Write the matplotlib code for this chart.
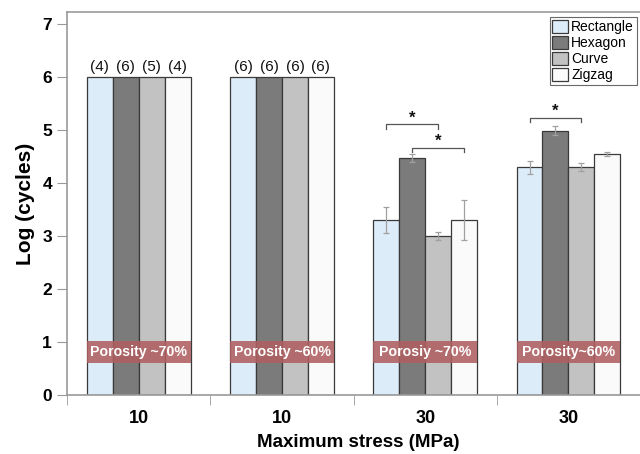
import numpy as np
import matplotlib
matplotlib.use('Agg')
import matplotlib.pyplot as plt

plt.rcParams['font.family'] = ['Liberation Sans', 'DejaVu Sans']

#####################################

groups = ['10', '10', '30', '30']
shapes = ['Rectangle', 'Hexagon', 'Curve', 'Zigzag']
colors = ['#ddecf9', '#7b7b7b', '#c2c2c2', '#fafafa']

rectangle = [6.0, 6.0, 3.30, 4.30]
hexagon = [6.0, 6.0, 4.47, 4.99]
curve = [6.0, 6.0, 3.00, 4.30]
zigzag = [6.0, 6.0, 3.30, 4.55]

rectangle_err = [0, 0, 0.25, 0.12]
hexagon_err = [0, 0, 0.08, 0.08]
curve_err = [0, 0, 0.08, 0.08]
zigzag_err = [0, 0, 0.38, 0.04]

counts = [['(4)', '(6)', '(5)', '(4)'], ['(6)', '(6)', '(6)', '(6)'], None, None]
porosity = ['Porosity ~70%', 'Porosity ~60%', 'Porosiy ~70%', 'Porosity~60%']

# (group, bar a, bar b, height)
brackets = [(2, 0, 2, 5.11), (2, 1, 3, 4.66), (3, 0, 2, 5.23)]

#####################################

values = [rectangle, hexagon, curve, zigzag]
errors = [rectangle_err, hexagon_err, curve_err, zigzag_err]

fig = plt.figure(figsize=(6.4, 4.54), dpi=100)
ax = fig.add_axes([0.105, 0.130, 0.895, 0.8436])

x = np.arange(len(groups))
w = 0.181
offsets = (np.arange(4) - 1.5) * w

for i in range(4):
    err = [e if e > 0 else np.nan for e in errors[i]]
    ax.bar(x + offsets[i], values[i], w, color=colors[i], edgecolor='#3a3a3a',
           linewidth=0.9, label=shapes[i], zorder=2)
    ax.errorbar(x + offsets[i], values[i], yerr=err, fmt='none', ecolor='#a0a0a0',
                elinewidth=0.9, capsize=2, capthick=0.9, zorder=3)

for g, labs in enumerate(counts):
    if labs is None:
        continue
    for i, lab in enumerate(labs):
        ax.text(x[g] + offsets[i], values[i][g] + 0.05, lab, ha='center', va='bottom',
                fontsize=11, color='#111111')

for g, lab in enumerate(porosity):
    ax.add_patch(plt.Rectangle((x[g] - 2 * w, 0.60), 4 * w, 0.42, facecolor='#b05f60',
                               alpha=0.88, edgecolor='none', zorder=4))
    ax.text(x[g], 0.81, lab, ha='center', va='center', fontsize=10.2, fontweight='bold',
            color='white', zorder=5)

for g, a, b, h in brackets:
    xa = x[g] + offsets[a]
    xb = x[g] + offsets[b]
    ax.plot([xa, xa, xb, xb], [h - 0.08, h, h, h - 0.08], color='#555555', lw=0.9, zorder=3)
    ax.text((xa + xb) / 2, h - 0.02, '*', ha='center', va='bottom', fontsize=12,
            fontweight='bold', color='#111111')

ax.set_xlim(-0.5, 3.42)
ax.set_ylim(0, 7.23)
ax.set_yticks(range(0, 8))
ax.set_xticks(x)
ax.set_xticklabels(groups)
ax.set_xticks(np.arange(-0.5, 3.6, 1.0), minor=True)
ax.tick_params(axis='x', which='major', length=0, pad=11, labelsize=13)
ax.tick_params(axis='x', which='minor', length=7, direction='out', color='#999999')
ax.tick_params(axis='y', length=7, direction='out', color='#999999', labelsize=12.5, pad=4)
for lab in ax.get_xticklabels() + ax.get_yticklabels():
    lab.set_fontweight('bold')

for s in ['left', 'bottom', 'top']:
    ax.spines[s].set_color('#999999')
    ax.spines[s].set_linewidth(1.2)
ax.spines['right'].set_visible(False)

ax.set_xlabel('Maximum stress (MPa)', fontsize=13.5, fontweight='bold', va='center')
ax.xaxis.set_label_coords(0.508, -0.125)
ax.set_ylabel('Log (cycles)', fontsize=15, fontweight='bold', va='center')
ax.yaxis.set_label_coords(-0.073, 0.5)

leg = ax.legend(loc='upper right', bbox_to_anchor=(0.994, 0.987), fontsize=10,
                frameon=True, fancybox=False, edgecolor='#444444', borderpad=0.2,
                handlelength=1.1, handleheight=1.1, handletextpad=0.25, labelspacing=0.12,
                borderaxespad=0)
leg.get_frame().set_linewidth(0.8)

fig.savefig('out.png', dpi=100)
